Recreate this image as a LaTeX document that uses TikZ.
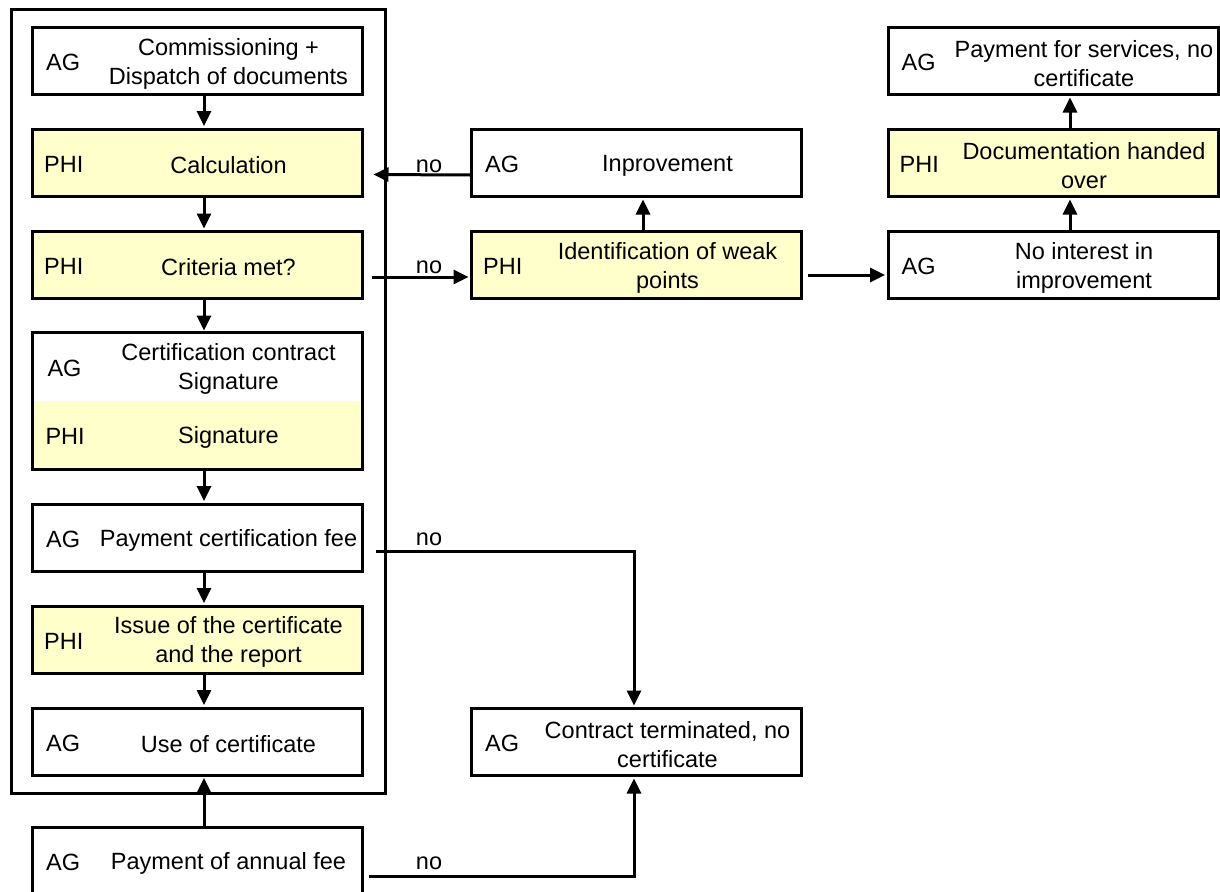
\documentclass[tikz,border=0pt]{standalone}
\usepackage{fontspec}
\setmainfont{Liberation Sans}
\usetikzlibrary{arrows.meta}
\definecolor{boxyellow}{HTML}{FFFFCC}
\tikzset{
  box/.style={draw, line width=3pt, minimum width=330pt, minimum height=67pt, inner sep=0pt, fill=white},
  ybox/.style={box, fill=boxyellow},
  who/.style={anchor=west, inner sep=0pt, yshift=-1.5pt},
  txt/.style={align=center, inner sep=0pt, yshift=-2.5pt},
  arr/.style={line width=3pt, -{Triangle[length=15pt,width=14pt]}, shorten >=1.5pt},
  plain/.style={line width=3pt},
  lbl/.style={inner sep=0pt},
}
\begin{document}
\begin{tikzpicture}[x=1pt,y=-1pt,font=\fontsize{23.5}{29}\selectfont]
\useasboundingbox (0,0) rectangle (1220,891);
\clip (0,0) rectangle (1220,891);
\fill[white] (0,0) rectangle (1220,891);
% outer frame
\draw[plain] (11,10) rectangle (385,793);
% left column
\node[box]  (b1) at (197.5,61) {};
\node[ybox] (b2) at (197.5,162.5) {};
\node[ybox] (b3) at (197.5,265) {};
\node[inner sep=0pt, minimum width=330pt, minimum height=68.5pt, fill=white] (b4a) at (197.5,366.5) {};
\node[inner sep=0pt, minimum width=330pt, minimum height=68.5pt, fill=boxyellow] (b4b) at (197.5,435) {};
\draw[plain] (b4a.north west) rectangle (b4b.south east);
\node[box]  (b5) at (197.5,537.5) {};
\node[ybox] (b6) at (197.5,639.5) {};
\node[box]  (b7) at (197.5,741.5) {};
\node[box]  (b8) at (197.5,861) {};
% middle column
\node[box]  (imp) at (636.5,163) {};
\node[ybox] (ident) at (636.5,265) {};
\node[box]  (contract) at (636.5,742) {};
% right column
\node[box]  (pay) at (1053,61) {};
\node[ybox] (doc) at (1053,163) {};
\node[box]  (noint) at (1053,265) {};
% texts
\node[who] (w1) at ([xshift=15pt]b1.west) {AG};
\node[txt] (t1) at ([xshift=31pt]b1.center) {Commissioning +\\Dispatch of documents};
\node[who] (w2) at ([xshift=13pt]b2.west) {PHI};
\node[txt] (t2) at ([xshift=31pt]b2.center) {Calculation};
\node[who] (w3) at ([xshift=13pt]b3.west) {PHI};
\node[txt] (t3) at ([xshift=31pt]b3.center) {Criteria met?};
\node[who] (w4a) at ([xshift=15pt]b4a.west) {AG};
\node[txt] (t4a) at ([xshift=31pt]b4a.center) {Certification contract\\Signature};
\node[who] (w4b) at ([xshift=13pt]b4b.west) {PHI};
\node[txt] (t4b) at ([xshift=31pt]b4b.center) {Signature};
\node[who] (w5) at ([xshift=15pt]b5.west) {AG};
\node[txt] (t5) at ([xshift=31pt]b5.center) {Payment certification fee};
\node[who] (w6) at ([xshift=13pt]b6.west) {PHI};
\node[txt] (t6) at ([xshift=31pt]b6.center) {Issue of the certificate\\and the report};
\node[who] (w7) at ([xshift=15pt]b7.west) {AG};
\node[txt] (t7) at ([xshift=31pt]b7.center) {Use of certificate};
\node[who] (w8) at ([xshift=15pt]b8.west) {AG};
\node[txt] (t8) at ([xshift=31pt]b8.center) {Payment of annual fee};
\node[who] (wi) at ([xshift=15pt]imp.west) {AG};
\node[txt] (ti) at ([xshift=31pt]imp.center) {Inprovement};
\node[who] (wd) at ([xshift=13pt]ident.west) {PHI};
\node[txt] (td) at ([xshift=31pt]ident.center) {Identification of weak\\points};
\node[who] (wc) at ([xshift=15pt]contract.west) {AG};
\node[txt] (tc) at ([xshift=31pt]contract.center) {Contract terminated, no\\certificate};
\node[who] (wp) at ([xshift=15pt]pay.west) {AG};
\node[txt] (tp) at ([xshift=31pt]pay.center) {Payment for services, no\\certificate};
\node[who] (wo) at ([xshift=13pt]doc.west) {PHI};
\node[txt] (to) at ([xshift=31pt]doc.center) {Documentation handed\\over};
\node[who] (wn) at ([xshift=15pt]noint.west) {AG};
\node[txt] (tn) at ([xshift=31pt]noint.center) {No interest in\\improvement};
% vertical arrows left column
\draw[arr] ([xshift=6.5pt]b1.south) -- ([xshift=6.5pt]b2.north);
\draw[arr] ([xshift=6.5pt]b2.south) -- ([xshift=6.5pt]b3.north);
\draw[arr] ([xshift=6.5pt]b3.south) -- ([xshift=6.5pt]b4a.north);
\draw[arr] ([xshift=6.5pt]b4b.south) -- ([xshift=6.5pt]b5.north);
\draw[arr] ([xshift=6.5pt]b5.south) -- ([xshift=6.5pt]b6.north);
\draw[arr] ([xshift=6.5pt]b6.south) -- ([xshift=6.5pt]b7.north);
\draw[arr] ([xshift=6.5pt]b8.north) -- ([xshift=6.5pt]b7.south);
% middle & right
\draw[arr] ([xshift=6.5pt]ident.north) -- ([xshift=6.5pt]imp.south);
\draw[arr] ([xshift=17pt]noint.north) -- ([xshift=17pt]doc.south);
\draw[arr] ([xshift=17pt]doc.north) -- ([xshift=17pt]pay.south);
\draw[arr] ([yshift=-12pt]imp.west) -- ([xshift=8pt,yshift=-12pt]b2.east);
\draw[arr] ([xshift=8pt,yshift=-12pt]b3.east) -- ([yshift=-12pt]ident.west);
\draw[arr] ([xshift=5pt,yshift=-10pt]ident.east) -- ([yshift=-10pt]noint.west);
\draw[arr] ([xshift=12pt,yshift=-13.5pt]b5.east) -| ([xshift=-2.5pt]contract.north);
\draw[arr] ([xshift=4.5pt,yshift=-15pt]b8.east) -| ([xshift=-2.5pt]contract.south);
% labels
\node[lbl] (n1) at (429,166) {no};
\node[lbl] (n2) at (429,267) {no};
\node[lbl] (n3) at (429,539) {no};
\node[lbl] (n4) at (429,863) {no};
\end{tikzpicture}
\end{document}
